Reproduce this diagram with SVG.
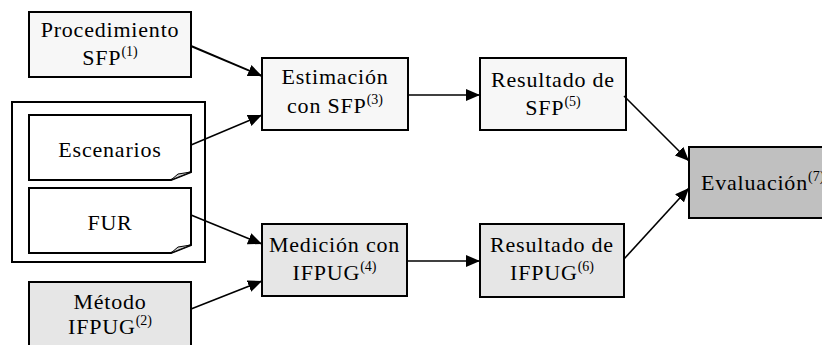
<svg xmlns="http://www.w3.org/2000/svg" width="822" height="345" viewBox="0 0 822 345">
<style>
.box{stroke:#000;stroke-width:2}
.l1{fill:#f7f7f7}
.l2{fill:#e6e6e6}
.l3{fill:#c0c0c0}
.t{font-family:"Liberation Serif","Times New Roman",serif;font-size:22px;letter-spacing:0.8px;fill:#000;text-anchor:middle}
.sup{font-size:14px;letter-spacing:0}
.e{stroke:#000;stroke-width:1.6;fill:none;marker-end:url(#ah)}
</style>
<defs>
<marker id="ah" viewBox="0 0 14 12" refX="14" refY="6" markerWidth="14" markerHeight="12" markerUnits="userSpaceOnUse" orient="auto">
<path d="M0,0 L14,6 L0,12 z" fill="#000"/>
</marker>
</defs>
<rect width="822" height="345" fill="#fff"/>
<g id="grupo"><rect x="12" y="102" width="193" height="160" fill="none" stroke="#000" stroke-width="2"/></g>
<g id="procedimiento">
<rect class="box l1" x="29" y="12" width="162" height="65"/>
<text class="t" x="110" y="37">Procedimiento</text>
<text class="t" x="110" y="65">SFP<tspan class="sup" dy="-9">(1)</tspan></text>
</g>
<g id="escenarios">
<path class="box" fill="#fff" d="M29,115 H191 V172 L171,180 H29 Z"/>
<path d="M171,180 L191,172 L178,174 Z" fill="#ccc" stroke="#000" stroke-width="1"/>
<text class="t" x="110" y="157">Escenarios</text>
</g>
<g id="fur">
<path class="box" fill="#fff" d="M29,188 H191 V245 L171,253 H29 Z"/>
<path d="M171,253 L191,245 L178,247 Z" fill="#ccc" stroke="#000" stroke-width="1"/>
<text class="t" x="110" y="230">FUR</text>
</g>
<g id="metodo">
<rect class="box l2" x="29" y="282" width="162" height="70"/>
<text class="t" x="110" y="309">Método</text>
<text class="t" x="110" y="334">IFPUG<tspan class="sup" dy="-9">(2)</tspan></text>
</g>
<g id="estimacion">
<rect class="box l1" x="262" y="58" width="146" height="72"/>
<text class="t" x="335" y="84">Estimación</text>
<text class="t" x="335" y="113">con SFP<tspan class="sup" dy="-9">(3)</tspan></text>
</g>
<g id="medicion">
<rect class="box l2" x="262" y="224" width="145" height="72"/>
<text class="t" x="334.5" y="252">Medición con</text>
<text class="t" x="334.5" y="280">IFPUG<tspan class="sup" dy="-9">(4)</tspan></text>
</g>
<g id="resultado-sfp">
<rect class="box l1" x="480" y="58" width="146" height="72"/>
<text class="t" x="553" y="87">Resultado de</text>
<text class="t" x="553" y="115">SFP<tspan class="sup" dy="-9">(5)</tspan></text>
</g>
<g id="resultado-ifpug">
<rect class="box l2" x="480" y="224" width="144" height="73"/>
<text class="t" x="552" y="252">Resultado de</text>
<text class="t" x="552" y="280">IFPUG<tspan class="sup" dy="-9">(6)</tspan></text>
</g>
<g id="evaluacion">
<rect class="box l3" x="689" y="147" width="150" height="71"/>
<text class="t" x="701" y="190" style="text-anchor:start">Evaluación<tspan class="sup" dy="-9">(7)</tspan></text>
</g>
<g id="conectores">
<line class="e" x1="191" y1="46" x2="262" y2="76" style="stroke-width:2"/>
<line class="e" x1="191" y1="145" x2="262" y2="115"/>
<line class="e" x1="191" y1="215" x2="262" y2="244"/>
<line class="e" x1="191" y1="309" x2="262" y2="281"/>
<line class="e" x1="408" y1="95" x2="480" y2="95"/>
<line class="e" x1="407" y1="261" x2="480" y2="261"/>
<line class="e" x1="624" y1="96" x2="689" y2="161"/>
<line class="e" x1="624" y1="259" x2="689" y2="188"/>
</g>
</svg>
